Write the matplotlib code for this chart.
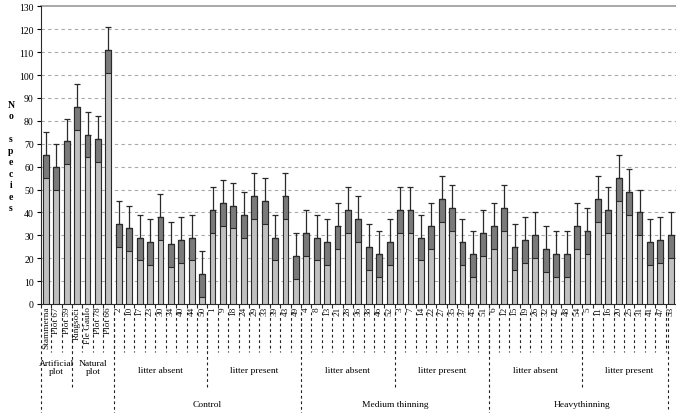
import matplotlib
matplotlib.use("Agg")
import matplotlib.pyplot as plt
from matplotlib.transforms import blended_transform_factory

labels = ["Stammerna", "Plot 67", "Plot 59", "Ringsoci", "Fle Gaulo", "Plot 78", "Plot 66",
          "2", "10", "17", "23", "30", "34", "40", "44", "50",
          "1", "9", "18", "24", "29", "33", "39", "43", "49",
          "4", "8", "13", "21", "28", "36", "38", "46", "52",
          "3", "7", "14", "22", "27", "35", "37", "45", "51",
          "6", "12", "15", "19", "26", "32", "42", "48", "54",
          "5", "11", "16", "20", "25", "31", "41", "47", "53"]
values = [65, 60, 71, 86, 74, 72, 111,
          35, 33, 29, 27, 38, 26, 28, 29, 13,
          41, 44, 43, 39, 47, 45, 29, 47, 21,
          31, 29, 27, 34, 41, 37, 25, 22, 27,
          41, 41, 29, 34, 46, 42, 27, 22, 31,
          34, 42, 25, 28, 30, 24, 22, 22, 34,
          32, 46, 41, 55, 49, 40, 27, 28, 30]
errors = [10, 10, 10, 10, 10, 10, 10,
          10, 10, 10, 10, 10, 10, 10, 10, 10,
          10, 10, 10, 10, 10, 10, 10, 10, 10,
          10, 10, 10, 10, 10, 10, 10, 10, 10,
          10, 10, 10, 10, 10, 10, 10, 10, 10,
          10, 10, 10, 10, 10, 10, 10, 10, 10,
          10, 10, 10, 10, 10, 10, 10, 10, 10]
plot_groups = [("Artificial\nplot", 0, 2), ("Natural\nplot", 3, 6)]
litter_groups = [("litter absent", 7, 15), ("litter present", 16, 24),
                 ("litter absent", 25, 33), ("litter present", 34, 42),
                 ("litter absent", 43, 51), ("litter present", 52, 60)]
treatments = [("Control", 7, 24), ("Medium thinning", 25, 42), ("Heavythinning", 43, 60)]
yticks = list(range(0, 131, 10))

W, H = 676, 414
fig = plt.figure(figsize=(W / 100, H / 100), dpi=100)
ax = fig.add_axes([40.7 / W, 1 - 305 / H, 1 - 40.7 / W, (305 - 7.3) / H])

serif = ["Liberation Serif", "DejaVu Serif"]
x = list(range(len(values)))
bw = 0.56
ax.bar(x, values, width=bw, color="#c0c0c0", edgecolor="#2a2a2a", linewidth=0.8, zorder=3)
lows = [v - e for v, e in zip(values, errors)]
ax.bar(x, errors, bottom=lows, width=bw, color="#7a7a7a", edgecolor="#2a2a2a", linewidth=0.8, zorder=4)
ax.errorbar(x, values, yerr=[[0] * len(values), errors], fmt="none", ecolor="#2a2a2a",
            elinewidth=0.9, capsize=2.2, capthick=0.9, zorder=5)

ax.set_xlim(-0.5, 60.1)
ax.set_ylim(0, 130)
ax.set_yticks(yticks)
ax.set_yticklabels([str(t) for t in yticks], fontfamily=serif, fontsize=7)
for t in yticks[1:-1]:
    ax.axhline(t, color="#a8a8a8", lw=0.8, ls=(0, (3, 3)), zorder=1)
ax.axhline(130, color="#9a9a9a", lw=1.2, zorder=1, clip_on=False)

ax.set_xticks([i + 0.5 for i in range(-1, len(values))], minor=False)
ax.set_xticklabels([])
ax.tick_params(axis="x", length=3, width=0.8, direction="out", color="#2a2a2a")
ax.tick_params(axis="y", length=3, width=0.8, direction="out", pad=2)
for s in ["top", "right"]:
    ax.spines[s].set_visible(False)
ax.spines["left"].set_color("#2a2a2a")
ax.spines["bottom"].set_color("#2a2a2a")

tr = blended_transform_factory(ax.transData, fig.transFigure)
def fy(p):
    return 1 - p / H

for i, lab in enumerate(labels):
    ax.text(i, fy(307), lab, transform=tr, rotation=90, ha="center", va="top",
            fontsize=6.7, fontfamily=serif, color="#111111")

# small separators between categories
for i in range(len(values) - 1):
    b = i + 0.5
    ax.plot([b, b], [fy(313), fy(353)], transform=tr, color="#222222", lw=0.8,
            ls=(0, (2.5, 2.5)), clip_on=False)
# group separators
long_b = [-0.5, 6.5, 24.5, 42.5]
mid_b = [2.5, 15.5, 33.5, 51.5]
for b in long_b:
    ax.plot([b, b], [fy(313), fy(414)], transform=tr, color="#222222", lw=0.8,
            ls=(0, (2.5, 2.5)), clip_on=False)
for b in mid_b:
    ax.plot([b, b], [fy(313), fy(390)], transform=tr, color="#222222", lw=0.8,
            ls=(0, (2.5, 2.5)), clip_on=False)
ax.plot([59.75, 59.75], [fy(313), fy(410)], transform=tr, color="#222222", lw=0.8,
        ls=(0, (2.5, 2.5)), clip_on=False)

for name, a, b in plot_groups:
    ax.text((a + b) / 2, fy(368), name, transform=tr, ha="center", va="center",
            fontsize=6.8, fontfamily=serif, linespacing=1.1)
for name, a, b in litter_groups:
    ax.text((a + b) / 2, fy(371), name, transform=tr, ha="center", va="center",
            fontsize=6.8, fontfamily=serif)
for name, a, b in treatments:
    ax.text((a + b) / 2, fy(405), name, transform=tr, ha="center", va="center",
            fontsize=6.8, fontfamily=serif)

fig.text(11 / W, fy(157), "N\no\n\ns\np\ne\nc\ni\ne\ns", ha="center", va="center",
         fontsize=7, fontfamily=serif, fontweight="bold", linespacing=1.35)

fig.savefig("out.png", dpi=100)
